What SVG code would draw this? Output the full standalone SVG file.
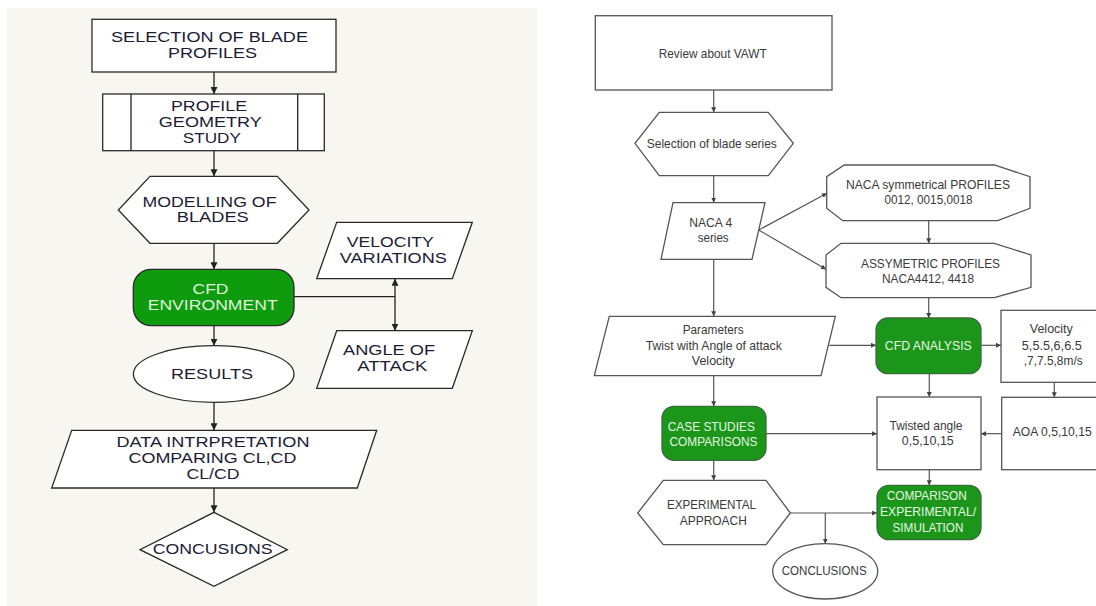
<svg xmlns="http://www.w3.org/2000/svg" width="1096" height="606" viewBox="0 0 1096 606">
<style>
.lt{font-family:"Liberation Sans",Arial,sans-serif;font-size:15px;fill:#1c1c34;text-anchor:middle}
.lw{font-family:"Liberation Sans",Arial,sans-serif;font-size:15px;fill:#dff2d8;text-anchor:middle}
.rt{font-family:"Liberation Sans",Arial,sans-serif;font-size:13px;fill:#3a3a3a;text-anchor:middle}
.rw{font-family:"Liberation Sans",Arial,sans-serif;font-size:13px;fill:#e4f6e0;text-anchor:middle}
.ls{fill:#ffffff;stroke:#2a2a2a;stroke-width:1.3}
.lg{fill:#0e9b0e;stroke:#2a2a2a;stroke-width:1.3}
.rs{fill:#ffffff;stroke:#555;stroke-width:1.3}
.rg{fill:#1b961b;stroke:#3a6b3a;stroke-width:1.3}
.lc{fill:none;stroke:#222;stroke-width:1.3}
.rc{fill:none;stroke:#555;stroke-width:1.2}
</style>
<defs>
<marker id="la" viewBox="0 0 10 10" refX="10" refY="5" markerUnits="userSpaceOnUse" markerWidth="7" markerHeight="7" orient="auto-start-reverse"><path d="M0,0 L10,5 L0,10 z" fill="#222"/></marker>
<marker id="ra" viewBox="0 0 10 10" refX="10" refY="5" markerUnits="userSpaceOnUse" markerWidth="5" markerHeight="5" orient="auto"><path d="M0,0 L10,5 L0,10 z" fill="#444"/></marker>
</defs>
<rect x="0" y="0" width="1096" height="606" fill="#ffffff"/>
<rect x="7" y="8" width="530" height="598" fill="#f8f6f0"/>

<g id="connectors">
<line class="lc" x1="214" y1="72" x2="214" y2="94" marker-end="url(#la)"/>
<line class="lc" x1="214" y1="151" x2="214" y2="176.3" marker-end="url(#la)"/>
<line class="lc" x1="214" y1="243.3" x2="214" y2="269.3" marker-end="url(#la)"/>
<line class="lc" x1="294" y1="296.7" x2="395" y2="296.7"/>
<line class="lc" x1="395" y1="278.7" x2="395" y2="330.7" marker-start="url(#la)" marker-end="url(#la)"/>
<line class="lc" x1="214" y1="325.7" x2="214" y2="345.7" marker-end="url(#la)"/>
<line class="lc" x1="214" y1="402.3" x2="214" y2="430.3" marker-end="url(#la)"/>
<line class="lc" x1="214" y1="488" x2="214" y2="512.3" marker-end="url(#la)"/>

<line class="rc" x1="713.7" y1="90" x2="713.7" y2="112.3" marker-end="url(#ra)"/>
<line class="rc" x1="713.7" y1="175.7" x2="713.7" y2="202.7" marker-end="url(#ra)"/>
<line class="rc" x1="758.7" y1="230" x2="827" y2="193.3" marker-end="url(#ra)"/>
<line class="rc" x1="758.7" y1="230" x2="826" y2="269.3" marker-end="url(#ra)"/>
<line class="rc" x1="928.7" y1="220.7" x2="928.7" y2="243.3" marker-end="url(#ra)"/>
<line class="rc" x1="713.7" y1="259.3" x2="713.7" y2="316.3" marker-end="url(#ra)"/>
<line class="rc" x1="928.7" y1="297.7" x2="928.7" y2="318" marker-end="url(#ra)"/>
<line class="rc" x1="829.3" y1="345.3" x2="876" y2="345.3" marker-end="url(#ra)"/>
<line class="rc" x1="981" y1="345.3" x2="1001" y2="345.3" marker-end="url(#ra)"/>
<line class="rc" x1="1054.3" y1="382.3" x2="1054.3" y2="397.3" marker-end="url(#ra)"/>
<line class="rc" x1="1001.7" y1="433.7" x2="981" y2="433.7" marker-end="url(#ra)"/>
<line class="rc" x1="929.3" y1="373.7" x2="929.3" y2="397" marker-end="url(#ra)"/>
<line class="rc" x1="929.3" y1="469.7" x2="929.3" y2="485.3" marker-end="url(#ra)"/>
<line class="rc" x1="713.7" y1="375.7" x2="713.7" y2="406.3" marker-end="url(#ra)"/>
<line class="rc" x1="766" y1="433.7" x2="877" y2="433.7" marker-end="url(#ra)"/>
<line class="rc" x1="713.7" y1="460.3" x2="713.7" y2="480.3" marker-end="url(#ra)"/>
<line class="rc" x1="790.3" y1="513" x2="877" y2="513" marker-end="url(#ra)"/>
<line class="rc" x1="825.3" y1="513" x2="825.3" y2="543.7" marker-end="url(#ra)"/>
</g>

<g id="n-selection-profiles">
<rect class="ls" x="92" y="19.3" width="244" height="52.7"/>
<text class="lt" x="209.5" y="42.3" textLength="197" lengthAdjust="spacingAndGlyphs">SELECTION OF BLADE</text>
<text class="lt" x="212.5" y="58.3" textLength="89" lengthAdjust="spacingAndGlyphs">PROFILES</text>
</g>
<g id="n-profile-geometry">
<rect class="ls" x="102.7" y="94" width="221.6" height="56.7"/>
<line class="lc" x1="131" y1="94" x2="131" y2="150.7"/>
<line class="lc" x1="297.7" y1="94" x2="297.7" y2="150.7"/>
<text class="lt" x="209" y="110.7" textLength="76" lengthAdjust="spacingAndGlyphs">PROFILE</text>
<text class="lt" x="210.3" y="126.7" textLength="103" lengthAdjust="spacingAndGlyphs">GEOMETRY</text>
<text class="lt" x="211.8" y="142.7" textLength="58" lengthAdjust="spacingAndGlyphs">STUDY</text>
</g>
<g id="n-modelling">
<polygon class="ls" points="150,176.3 277.3,176.3 309,210 277.3,243.3 150,243.3 118.3,210"/>
<text class="lt" x="209.5" y="206.7" textLength="134" lengthAdjust="spacingAndGlyphs">MODELLING OF</text>
<text class="lt" x="212.8" y="222.3" textLength="72" lengthAdjust="spacingAndGlyphs">BLADES</text>
</g>
<g id="n-cfd-env">
<rect class="lg" x="133.3" y="269.3" width="160.7" height="56.4" rx="18" ry="18"/>
<text class="lw" x="210.5" y="294" textLength="36" lengthAdjust="spacingAndGlyphs">CFD</text>
<text class="lw" x="212.7" y="309.7" textLength="130" lengthAdjust="spacingAndGlyphs">ENVIRONMENT</text>
</g>
<g id="n-velocity-var">
<polygon class="ls" points="336.7,222.3 472.3,222.3 452.3,278.7 316.7,278.7"/>
<text class="lt" x="390.3" y="247.3" textLength="87" lengthAdjust="spacingAndGlyphs">VELOCITY</text>
<text class="lt" x="393.3" y="263.3" textLength="107" lengthAdjust="spacingAndGlyphs">VARIATIONS</text>
</g>
<g id="n-angle-attack">
<polygon class="ls" points="336.7,330.7 472.3,330.7 452.3,388.3 316.7,388.3"/>
<text class="lt" x="389" y="355.3" textLength="92" lengthAdjust="spacingAndGlyphs">ANGLE OF</text>
<text class="lt" x="392.3" y="371.3" textLength="70" lengthAdjust="spacingAndGlyphs">ATTACK</text>
</g>
<g id="n-results">
<ellipse class="ls" cx="213.7" cy="374" rx="80.3" ry="28.3"/>
<text class="lt" x="212" y="378.7" textLength="82" lengthAdjust="spacingAndGlyphs">RESULTS</text>
</g>
<g id="n-data">
<polygon class="ls" points="71.7,430.3 376.7,430.3 357.3,488 51.7,488"/>
<text class="lt" x="213" y="447" textLength="193" lengthAdjust="spacingAndGlyphs">DATA INTRPRETATION</text>
<text class="lt" x="212.5" y="463" textLength="168" lengthAdjust="spacingAndGlyphs">COMPARING CL,CD</text>
<text class="lt" x="213" y="478.7" textLength="53" lengthAdjust="spacingAndGlyphs">CL/CD</text>
</g>
<g id="n-concusions">
<polygon class="ls" points="214,512.3 287.3,549.7 214,586.3 140,549.7"/>
<text class="lt" x="212.7" y="553.7" textLength="120" lengthAdjust="spacingAndGlyphs">CONCUSIONS</text>
</g>

<g id="n-review">
<rect class="rs" x="595.3" y="15.7" width="236.7" height="74.3"/>
<text class="rt" x="712.7" y="58.3" textLength="108" lengthAdjust="spacingAndGlyphs">Review about VAWT</text>
</g>
<g id="n-blade-series">
<polygon class="rs" points="659.3,112.3 768.3,112.3 793.3,143.3 768.3,175.7 659.3,175.7 635,143.3"/>
<text class="rt" x="711.8" y="148.3" textLength="130" lengthAdjust="spacingAndGlyphs">Selection of blade series</text>
</g>
<g id="n-naca4">
<polygon class="rs" points="673,202.7 765,202.7 752,259.3 661,259.3"/>
<text class="rt" x="710.7" y="226.7" textLength="43" lengthAdjust="spacingAndGlyphs">NACA 4</text>
<text class="rt" x="713.2" y="241.7" textLength="31" lengthAdjust="spacingAndGlyphs">series</text>
</g>
<g id="n-sym">
<polygon class="rs" points="844.3,165 994.3,165 1030,176.7 1030,208.3 997.7,220.7 842.7,220.7 826.7,208.3 826.7,176.7"/>
<text class="rt" x="928" y="189" textLength="164" lengthAdjust="spacingAndGlyphs">NACA symmetrical PROFILES</text>
<text class="rt" x="928.5" y="204" textLength="88" lengthAdjust="spacingAndGlyphs">0012, 0015,0018</text>
</g>
<g id="n-asym">
<polygon class="rs" points="841,243.3 994.3,243.3 1031,255 1031,287.3 994.3,297.7 841,297.7 826,287.3 826,255"/>
<text class="rt" x="930.5" y="267.7" textLength="139" lengthAdjust="spacingAndGlyphs">ASSYMETRIC PROFILES</text>
<text class="rt" x="928" y="283.3" textLength="92" lengthAdjust="spacingAndGlyphs">NACA4412, 4418</text>
</g>
<g id="n-parameters">
<polygon class="rs" points="609.3,316.3 835.3,316.3 821,375.7 594.3,375.7"/>
<text class="rt" x="713.2" y="333.7" textLength="61" lengthAdjust="spacingAndGlyphs">Parameters</text>
<text class="rt" x="713.8" y="349.7" textLength="136" lengthAdjust="spacingAndGlyphs">Twist with Angle of attack</text>
<text class="rt" x="713.3" y="364.7" textLength="43" lengthAdjust="spacingAndGlyphs">Velocity</text>
</g>
<g id="n-cfd-analysis">
<rect class="rg" x="876" y="318" width="105" height="55.7" rx="12" ry="12"/>
<text class="rw" x="928.3" y="349.7" textLength="87" lengthAdjust="spacingAndGlyphs">CFD ANALYSIS</text>
</g>
<g id="n-velocity-values">
<rect class="rs" x="1001" y="310.3" width="102" height="72"/>
<text class="rt" x="1051.3" y="333" textLength="43" lengthAdjust="spacingAndGlyphs">Velocity</text>
<text class="rt" x="1051.8" y="349.7" textLength="60" lengthAdjust="spacingAndGlyphs">5,5.5,6,6.5</text>
<text class="rt" x="1053.2" y="364.7" textLength="59" lengthAdjust="spacingAndGlyphs">,7,7.5,8m/s</text>
</g>
<g id="n-aoa">
<rect class="rs" x="1001.7" y="397.3" width="102" height="72.4"/>
<text class="rt" x="1052.2" y="436.3" textLength="79" lengthAdjust="spacingAndGlyphs">AOA 0,5,10,15</text>
</g>
<g id="n-twisted">
<rect class="rs" x="877" y="397" width="104" height="72.7"/>
<text class="rt" x="926" y="429.7" textLength="73" lengthAdjust="spacingAndGlyphs">Twisted angle</text>
<text class="rt" x="927.8" y="444.7" textLength="52" lengthAdjust="spacingAndGlyphs">0,5,10,15</text>
</g>
<g id="n-case-studies">
<rect class="rg" x="662" y="406.3" width="104" height="54" rx="12" ry="12"/>
<text class="rw" x="711.3" y="430.7" textLength="87" lengthAdjust="spacingAndGlyphs">CASE STUDIES</text>
<text class="rw" x="713.5" y="445.7" textLength="88" lengthAdjust="spacingAndGlyphs">COMPARISONS</text>
</g>
<g id="n-comparison">
<rect class="rg" x="877" y="485.3" width="104" height="54.4" rx="12" ry="12"/>
<text class="rw" x="926.7" y="500.3" textLength="80" lengthAdjust="spacingAndGlyphs">COMPARISON</text>
<text class="rw" x="928" y="516.3" textLength="96" lengthAdjust="spacingAndGlyphs">EXPERIMENTAL/</text>
<text class="rw" x="928" y="532.3" textLength="71" lengthAdjust="spacingAndGlyphs">SIMULATION</text>
</g>
<g id="n-experimental">
<polygon class="rs" points="663.3,480.3 766,480.3 790.3,513 766,544.7 663.3,544.7 637.7,513"/>
<text class="rt" x="711.5" y="509" textLength="89" lengthAdjust="spacingAndGlyphs">EXPERIMENTAL</text>
<text class="rt" x="713.3" y="524.7" textLength="67" lengthAdjust="spacingAndGlyphs">APPROACH</text>
</g>
<g id="n-conclusions">
<ellipse class="rs" cx="825.2" cy="571.3" rx="52.5" ry="27.7"/>
<text class="rt" x="824.2" y="574.7" textLength="85" lengthAdjust="spacingAndGlyphs">CONCLUSIONS</text>
</g>
</svg>
